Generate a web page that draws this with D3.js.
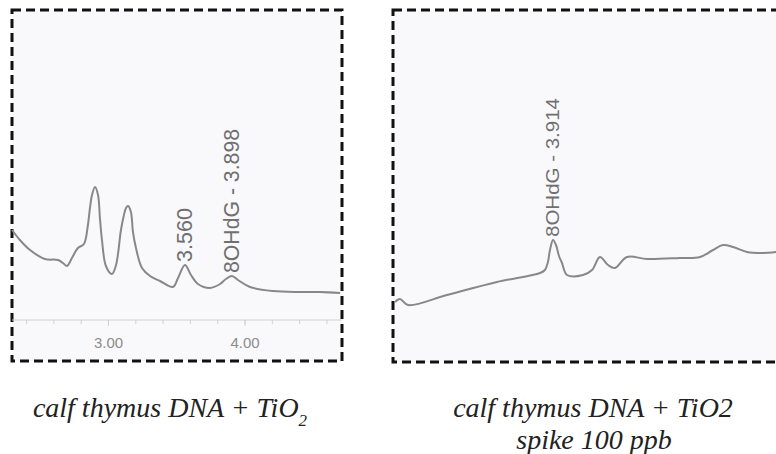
<!DOCTYPE html>
<meta charset="utf-8">
<style>
body { margin: 0; background: #fff; }
.frame { fill: #f9f9fb; stroke: #111; stroke-width: 3px; stroke-dasharray: 9,5; }
.trace { fill: none; stroke: #888; stroke-width: 2px; }
.peak { font-family: 'Liberation Sans Narrow', 'Liberation Sans', Arial, sans-serif; fill: #707070; }
.axis path, .axis line { stroke: #d0d0d0; }
.axis text { font-family: 'Liberation Sans', Arial, sans-serif; font-size: 15px; fill: #8c8c8c; }
.caption { font-family: 'Liberation Serif', 'Times New Roman', serif; font-style: italic; font-size: 28px; fill: #222; }
</style>
<body>
<div id="chart"></div>
<script src="https://cdn.jsdelivr.net/npm/d3@7"></script>
<script>

// retention time (min) and detector signal
var leftTime = [2.297, 2.355, 2.429, 2.538, 2.634, 2.670, 2.700, 2.736, 2.780, 2.824, 2.853, 2.868, 2.883, 2.905, 2.927, 2.941, 2.956, 2.985,
    3.029, 3.059, 3.095, 3.117, 3.132, 3.147, 3.168, 3.183, 3.205, 3.249, 3.308, 3.381, 3.476, 3.513, 3.564, 3.608, 3.659,
    3.747, 3.821, 3.864, 3.908, 3.952, 4.040, 4.209, 4.407, 4.553, 4.700];
var leftSignal = [90, 80, 70, 61, 60, 57, 54, 62, 72, 76, 95, 112, 125, 133, 125, 102, 80, 54,
    46, 55, 90, 105, 112, 114, 108, 88, 72, 52, 44, 39, 33, 42, 55, 45, 36,
    32, 36, 41, 44, 40, 33, 29, 28, 28, 27];

var rightTime = [2.757, 2.793, 2.852, 3.137, 3.504, 3.819, 3.855, 3.877, 3.892, 3.914, 3.936, 3.958, 3.980, 4.017, 4.134,
    4.200, 4.258, 4.317, 4.368, 4.456, 4.603, 4.844, 4.991, 5.086, 5.159, 5.233, 5.335, 5.452, 5.555];
var rightSignal = [18, 21, 15, 25, 38, 47, 50, 58, 70, 80, 75, 64, 57, 45, 45,
    50, 63, 55, 52, 63, 61, 62, 63, 70, 75, 73, 68, 67, 68];

var leftPeaks = [{t: 3.560, label: "3.560", len: 54, size: 22}, {t: 3.898, label: "8OHdG - 3.898", len: 144, size: 22}];
var rightPeaks = [{t: 3.914, label: "8OHdG - 3.914", len: 139, size: 18}];

var axisTicks = [3.0, 4.0];

var width = 776,
    height = 454;

var svg = d3.select("#chart").append("svg")
    .attr("width", width)
    .attr("height", height);

var y = d3.scaleLinear().domain([0, 140]).range([320, 180]);

// left panel: 5 minor ticks per minute
var xLeft = d3.scaleLinear().domain([2.297, 4.714]).range([12, 342]);
// right panel has no axis drawn, same resolution
var xRight = d3.scaleLinear().domain([2.742, 5.577]).range([393, 780]);

svg.append("rect").attr("class", "frame")
    .attr("x", 12).attr("y", 10).attr("width", 330).attr("height", 351);
svg.append("rect").attr("class", "frame")
    .attr("x", 393).attr("y", 10).attr("width", 400).attr("height", 352);

var minor = d3.range(2.4, 4.71, 0.2);
svg.append("g")
    .attr("class", "axis")
    .attr("transform", "translate(0," + y(0) + ")")
    .call(d3.axisBottom(xLeft).tickValues(minor).tickSize(4).tickFormat(""))
    .call(function(g) { g.select(".domain").attr("d", "M12,0H342"); });

svg.append("g")
    .attr("class", "axis")
    .attr("transform", "translate(0," + y(0) + ")")
    .call(d3.axisBottom(xLeft).tickValues(axisTicks).tickSize(6).tickPadding(11).tickFormat(d3.format(".2f")))
    .call(function(g) { g.select(".domain").remove(); });

function drawTrace(times, values, x) {
    var line = d3.line()
        .x(function(d, i) { return x(times[i]); })
        .y(function(d) { return y(d); })
        .curve(d3.curveCatmullRom.alpha(0.5));
    svg.append("path")
        .attr("class", "trace")
        .attr("d", line(values));
}

function labelPeaks(peaks, times, values, x) {
    peaks.forEach(function(p) {
        var top = d3.max(times.map(function(t, i) { return Math.abs(t - p.t) < 0.03 ? values[i] : -1; }));
        var px = x(p.t),
            py = y(top) - 3;
        svg.append("text")
            .attr("class", "peak")
            .attr("transform", "translate(" + (px + p.size * 0.36) + "," + py + ") rotate(-90)")
            .style("font-size", p.size + "px")
            .attr("textLength", p.len)
            .attr("lengthAdjust", "spacingAndGlyphs")
            .text(p.label);
    });
}

drawTrace(leftTime, leftSignal, xLeft);
drawTrace(rightTime, rightSignal, xRight);
labelPeaks(leftPeaks, leftTime, leftSignal, xLeft);
labelPeaks(rightPeaks, rightTime, rightSignal, xRight);

// captions
var c1 = svg.append("text").attr("class", "caption")
    .attr("x", 170).attr("y", 417).attr("text-anchor", "middle");
c1.append("tspan").text("calf thymus DNA + TiO");
c1.append("tspan").attr("dy", 9).style("font-size", "17px").text("2");

svg.append("text").attr("class", "caption")
    .attr("x", 593).attr("y", 417).attr("text-anchor", "middle")
    .text("calf thymus DNA + TiO2");
svg.append("text").attr("class", "caption")
    .attr("x", 594).attr("y", 449).attr("text-anchor", "middle")
    .text("spike 100 ppb");

</script>
